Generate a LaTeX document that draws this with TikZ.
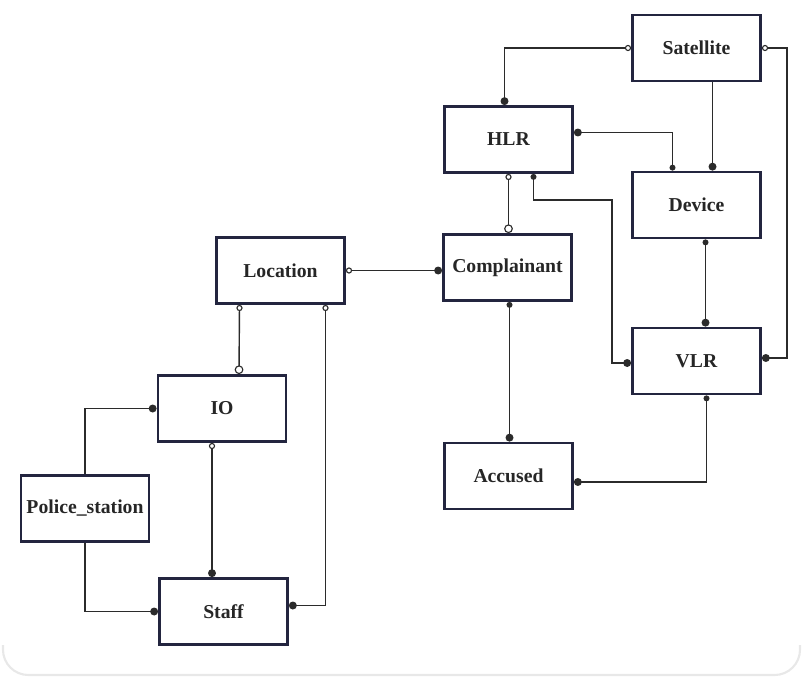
\documentclass[tikz,border=0pt]{standalone}
\usepackage{fontspec}
\setmainfont{Liberation Serif}
\usetikzlibrary{calc,arrows.meta}
\definecolor{boxline}{HTML}{23253F}
\definecolor{wire}{HTML}{2B2B2B}
\definecolor{card}{HTML}{E8E8E8}
\tikzset{
  entity/.style={draw=boxline,rectangle,line width=0.07cm,minimum width=3.2cm,minimum height=1.65cm,fill=white,font=\bfseries\fontsize{14}{16}\selectfont,text=black!85},
  link/.style={draw=wire,line width=1pt},
  fdot/.tip={Circle[length=5.6pt]},
  sdot/.tip={Circle[length=4.2pt]},
  oring/.tip={Circle[open,length=4.4pt,fill=white,line width=0.8pt]},
  bring/.tip={Circle[open,length=6.2pt,fill=white,line width=0.8pt]}
}

\begin{document}
\begin{tikzpicture}[x=0.025cm,y=-0.025cm]
\useasboundingbox (0,0) rectangle (803,678);
\draw[card,line width=1.5pt,rounded corners=18] (3,645) -- (3,675) -- (800,675) -- (800,645);

\draw node [entity] (sat) at (696.5,48) {Satellite};
\draw node [entity] (hlr) at (508.5,139.5) {HLR};
\draw node [entity] (dev) at (696.5,205) {Device};
\draw node [entity] (comp) at (507.5,267.5) {Complainant};
\draw node [entity] (vlr) at (696.5,361) {VLR};
\draw node [entity] (acc) at (508.5,476) {Accused};
\draw node [entity] (loc) at (280.5,270.5) {Location};
\draw node [entity] (io) at (222,408.5) {IO};
\draw node [entity] (ps) at (85,508.5) {Police\_station};
\draw node [entity] (staff) at (223.5,611.5) {Staff};

% satellite links
\draw[link,oring-fdot] (sat.west) -| ($(hlr.north)+(-4,0)$);
\draw[link,oring-fdot] (sat.east) -- ++(25,0) |- ($(vlr.east)+(0,-3)$);
\draw[link,-fdot] ($(sat.south)+(16,0)$) -- ($(dev.north)+(16,0)$);

% hlr links
\draw[link,fdot-sdot] ($(hlr.east)+(0,-7)$) -| ($(dev.north)+(-24,0)$);
\draw[link,oring-bring] (hlr.south) -- (hlr.south |- comp.north);
\draw[link,sdot-fdot] ($(hlr.south)+(25,0)$) -- ++(0,26) -| ($(vlr.west)+(-19,2)$) -- ($(vlr.west)+(0,2)$);
\draw[link,sdot-fdot] ($(dev.south)+(9,0)$) -- ($(vlr.north)+(9,0)$);

% complainant links
\draw[link,oring-fdot] (loc.east) -- (loc.east -| comp.west);
\draw[link,sdot-fdot] ($(comp.south)+(2,0)$) -- ($(acc.north)+(1,0)$);
\draw[link,sdot-fdot] ($(vlr.south)+(10,0)$) |- ($(acc.east)+(0,6)$);

% location, io, staff
\draw[link,oring-bring] ($(loc.south)+(-41,0)$) -- ($(io.north)+(17,0)$);
\draw[link,oring-fdot] ($(loc.south)+(45,0)$) |- ($(staff.east)+(0,-6)$);
\draw[link,fdot-] (io.west) -| (ps.north);
\draw[link,-fdot] (ps.south) |- (staff.west);
\draw[link,oring-fdot] ($(io.south)+(-10,0)$) -- ($(staff.north)+(-11.5,0)$);

\end{tikzpicture}
\end{document}
